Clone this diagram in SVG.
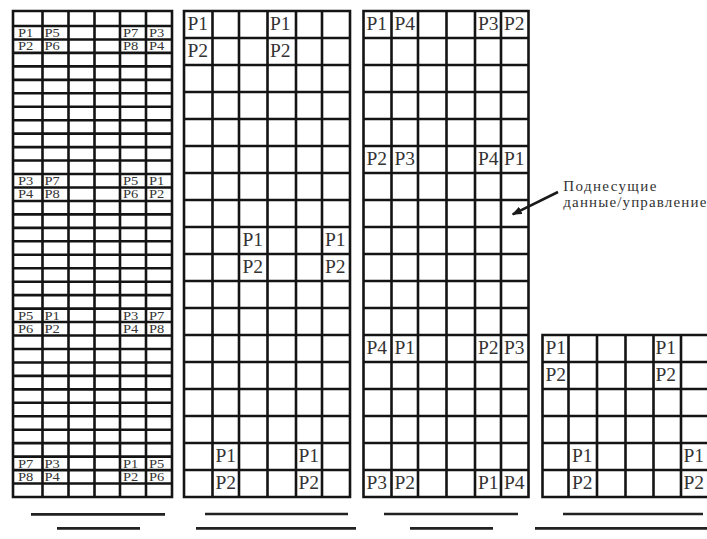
<svg xmlns="http://www.w3.org/2000/svg" width="707" height="539" viewBox="0 0 707 539">
<style>
.g{fill:none;stroke:#141414;stroke-width:2.6;stroke-linecap:square}
.s{font-family:"Liberation Serif","Times New Roman",serif;font-size:14.5px;fill:#333}
.b{font-family:"Liberation Serif","Times New Roman",serif;font-size:19.5px;fill:#333}
.c{font-family:"Liberation Serif","Times New Roman",serif;font-size:15px;fill:#333}
.u{stroke:#222;stroke-width:2.7;fill:none}
</style>
<defs>
<marker id="ah" viewBox="0 0 10 8" refX="9" refY="4" markerWidth="10" markerHeight="8" markerUnits="userSpaceOnUse" orient="auto">
<path d="M0 0L10 4L0 8Z" fill="#1a1a1a"/>
</marker>
</defs>
<rect width="707" height="539" fill="#fff"/>
<g id="grid1">
<path class="g" d="M13 11V497M42.5 11V497M68.5 11V497M94.5 11V497M120 11V497M146 11V497M172 11V497
M13 11H172M13 26H172M13 39.46H172M13 52.91H172M13 66.37H172M13 79.83H172M13 93.29H172M13 106.74H172M13 120.2H172M13 133.66H172M13 147.11H172M13 160.57H172M13 174.03H172M13 187.49H172M13 200.94H172M13 214.4H172M13 227.86H172M13 241.31H172M13 254.77H172M13 268.23H172M13 281.69H172M13 295.14H172M13 308.6H172M13 322.06H172M13 335.51H172M13 348.97H172M13 362.43H172M13 375.89H172M13 389.34H172M13 402.8H172M13 416.26H172M13 429.71H172M13 443.17H172M13 456.63H172M13 470.09H172M13 483.54H172M13 497H172"/>
<g transform="translate(0,37) scale(1,0.8)"><text class="s" x="18" y="0">P1</text><text class="s" x="44.5" y="0">P5</text><text class="s" x="123" y="0">P7</text><text class="s" x="149" y="0">P3</text></g>
<g transform="translate(0,50.4) scale(1,0.8)"><text class="s" x="18" y="0">P2</text><text class="s" x="44.5" y="0">P6</text><text class="s" x="123" y="0">P8</text><text class="s" x="149" y="0">P4</text></g>
<g transform="translate(0,185) scale(1,0.8)"><text class="s" x="18" y="0">P3</text><text class="s" x="44.5" y="0">P7</text><text class="s" x="123" y="0">P5</text><text class="s" x="149" y="0">P1</text></g>
<g transform="translate(0,198.4) scale(1,0.8)"><text class="s" x="18" y="0">P4</text><text class="s" x="44.5" y="0">P8</text><text class="s" x="123" y="0">P6</text><text class="s" x="149" y="0">P2</text></g>
<g transform="translate(0,319.6) scale(1,0.8)"><text class="s" x="18" y="0">P5</text><text class="s" x="44.5" y="0">P1</text><text class="s" x="123" y="0">P3</text><text class="s" x="149" y="0">P7</text></g>
<g transform="translate(0,333) scale(1,0.8)"><text class="s" x="18" y="0">P6</text><text class="s" x="44.5" y="0">P2</text><text class="s" x="123" y="0">P4</text><text class="s" x="149" y="0">P8</text></g>
<g transform="translate(0,467.6) scale(1,0.8)"><text class="s" x="18" y="0">P7</text><text class="s" x="44.5" y="0">P3</text><text class="s" x="123" y="0">P1</text><text class="s" x="149" y="0">P5</text></g>
<g transform="translate(0,481) scale(1,0.8)"><text class="s" x="18" y="0">P8</text><text class="s" x="44.5" y="0">P4</text><text class="s" x="123" y="0">P2</text><text class="s" x="149" y="0">P6</text></g>
</g>
<g id="grid2">
<path class="g" d="M184 11V497M212.5 11V497M239 11V497M267.5 11V497M296 11V497M322 11V497M350 11V497
M184 11H350M184 38H350M184 65H350M184 92H350M184 119H350M184 146H350M184 173H350M184 200H350M184 227H350M184 254H350M184 281H350M184 308H350M184 335H350M184 362H350M184 389H350M184 416H350M184 443H350M184 470H350M184 497H350"/>
<text class="b" x="187.5" y="30">P1</text><text class="b" x="270" y="30">P1</text>
<text class="b" x="187.5" y="57">P2</text><text class="b" x="270" y="57">P2</text>
<text class="b" x="242.5" y="246">P1</text><text class="b" x="325" y="246">P1</text>
<text class="b" x="242.5" y="273">P2</text><text class="b" x="325" y="273">P2</text>
<text class="b" x="215.5" y="462">P1</text><text class="b" x="298.5" y="462">P1</text>
<text class="b" x="215.5" y="489">P2</text><text class="b" x="298.5" y="489">P2</text>
</g>
<g id="grid3">
<path class="g" d="M363.5 11V497M391.5 11V497M418 11V497M446.5 11V497M475 11V497M501 11V497M528.5 11V497
M363.5 11H528.5M363.5 38H528.5M363.5 65H528.5M363.5 92H528.5M363.5 119H528.5M363.5 146H528.5M363.5 173H528.5M363.5 200H528.5M363.5 227H528.5M363.5 254H528.5M363.5 281H528.5M363.5 308H528.5M363.5 335H528.5M363.5 362H528.5M363.5 389H528.5M363.5 416H528.5M363.5 443H528.5M363.5 470H528.5M363.5 497H528.5"/>
<text class="b" x="366.5" y="30">P1</text><text class="b" x="394.5" y="30">P4</text><text class="b" x="478" y="30">P3</text><text class="b" x="504" y="30">P2</text>
<text class="b" x="366.5" y="165">P2</text><text class="b" x="394.5" y="165">P3</text><text class="b" x="478" y="165">P4</text><text class="b" x="504" y="165">P1</text>
<text class="b" x="366.5" y="354">P4</text><text class="b" x="394.5" y="354">P1</text><text class="b" x="478" y="354">P2</text><text class="b" x="504" y="354">P3</text>
<text class="b" x="366.5" y="489">P3</text><text class="b" x="394.5" y="489">P2</text><text class="b" x="478" y="489">P1</text><text class="b" x="504" y="489">P4</text>
</g>
<g id="grid4">
<path class="g" d="M542.5 335V497M568.5 335V497M597 335V497M625.5 335V497M653.5 335V497M681 335V497M709 335V497
M542.5 335H709M542.5 362H709M542.5 389H709M542.5 416H709M542.5 443H709M542.5 470H709M542.5 497H709"/>
<text class="b" x="545.5" y="354">P1</text><text class="b" x="655.5" y="354">P1</text>
<text class="b" x="545.5" y="381">P2</text><text class="b" x="655.5" y="381">P2</text>
<text class="b" x="572" y="462">P1</text><text class="b" x="683.5" y="462">P1</text>
<text class="b" x="572" y="489">P2</text><text class="b" x="683.5" y="489">P2</text>
</g>
<g id="baselines">
<path class="u" d="M31 514.3H165M57 528.3H140M205 514H348M196 528.3H356M384 514H518M410 528.3H493M563 514H703M535 528.3H707"/>
</g>
<g id="label">
<text class="c" x="563.3" y="190.7" textLength="93" lengthAdjust="spacing">Поднесущие</text>
<text class="c" x="563.3" y="206.7" textLength="143" lengthAdjust="spacing">данные/управление</text>
</g>
<g id="connectors">
<path d="M558 192L512.7 214.3" stroke="#1a1a1a" stroke-width="2.6" fill="none" marker-end="url(#ah)"/>
</g>
</svg>
